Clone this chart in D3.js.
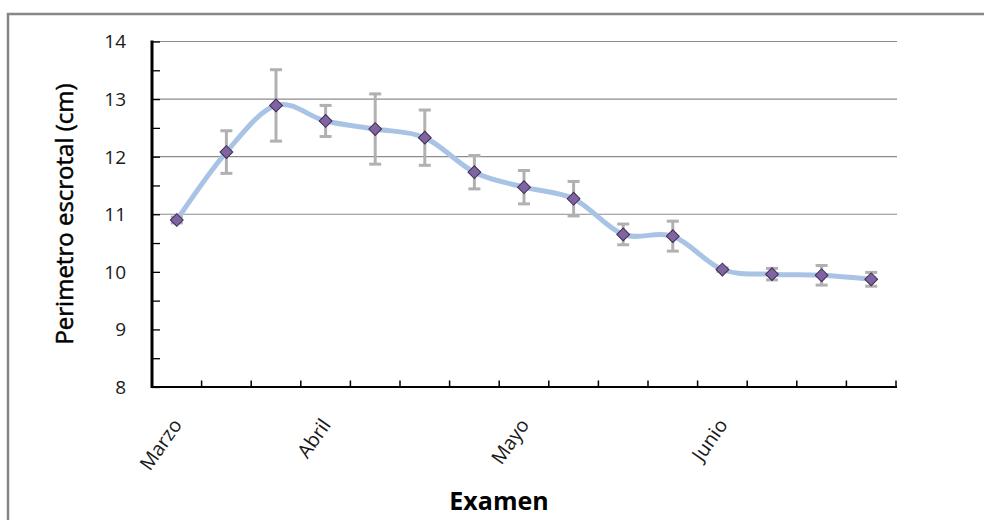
<!DOCTYPE html>
<html>
<head>
<meta charset="utf-8">
<script src="https://cdn.jsdelivr.net/npm/d3@7/dist/d3.min.js"></script>
<style>
  html, body { margin: 0; padding: 0; background: #fff; }
  svg { display: block; }
  text { font-family: "Open Sans", "Noto Sans", sans-serif; }
</style>
</head>
<body>
<svg id="chart" width="984" height="520"></svg>
<script>
// Scrotal perimeter by examination (mean ± error)
const exams = d3.range(1, 16);
const monthLabels = ["Marzo", "", "", "Abril", "", "", "", "Mayo", "", "", "", "Junio", "", "", ""];
const meanValues = [10.90, 12.08, 12.89, 12.62, 12.48, 12.33, 11.73, 11.47, 11.27, 10.65, 10.62, 10.04, 9.96, 9.94, 9.87];
const errorValues = [0.05, 0.37, 0.62, 0.27, 0.61, 0.48, 0.29, 0.29, 0.30, 0.18, 0.26, 0.03, 0.10, 0.17, 0.12];
const yTicks = [8, 9, 10, 11, 12, 13, 14];
const gridValues = [11, 12, 13, 14];

const svg = d3.select("#chart");

// outer chart frame
svg.append("rect")
  .attr("x", 8).attr("y", 14)
  .attr("width", 1000).attr("height", 540)
  .attr("fill", "none").attr("stroke", "#878787").attr("stroke-width", 2.5);

const plotLeft = 152, plotRight = 896, plotTop = 41.5, plotBottom = 387;

const x = d3.scaleBand().domain(exams).range([plotLeft, plotRight]).padding(0);
const y = d3.scaleLinear().domain([8, 14]).range([plotBottom, plotTop]);
const cx = d => x(d) + x.bandwidth() / 2;

// horizontal gridlines
svg.append("g").selectAll("line").data(gridValues).join("line")
  .attr("x1", plotLeft).attr("x2", plotRight + 1)
  .attr("y1", d => y(d)).attr("y2", d => y(d))
  .attr("stroke", "#8c8c8c").attr("stroke-width", 1.2);

// y axis with inward ticks every half unit
const yAxis = d3.axisRight(y)
  .tickValues(d3.range(8, 14.01, 0.5))
  .tickSize(8).tickFormat("");
const yg = svg.append("g").attr("transform", `translate(${plotLeft},0)`).call(yAxis);
yg.select(".domain").remove();
yg.selectAll(".tick line").attr("stroke", "#000").attr("stroke-width", 1.3);

svg.append("g").selectAll("text").data(yTicks).join("text")
  .attr("x", 126).attr("y", d => y(d))
  .attr("dy", "0.36em")
  .attr("text-anchor", "end")
  .attr("font-size", 19).attr("fill", "#1a1a1a")
  .text(d => d);

// x axis: ticks at category boundaries, pointing inward
const boundaries = d3.range(0, exams.length + 1).map(i => plotLeft + i * x.bandwidth());
svg.append("g").selectAll("line").data(boundaries).join("line")
  .attr("x1", d => d).attr("x2", d => d)
  .attr("y1", plotBottom).attr("y2", plotBottom - 6.5)
  .attr("stroke", "#000").attr("stroke-width", 1.5);
svg.append("line")
  .attr("x1", plotLeft).attr("x2", plotRight + 1)
  .attr("y1", plotBottom).attr("y2", plotBottom)
  .attr("stroke", "#000").attr("stroke-width", 2);
svg.append("line")
  .attr("x1", plotLeft).attr("x2", plotLeft)
  .attr("y1", plotTop - 1).attr("y2", plotBottom + 1)
  .attr("stroke", "#000").attr("stroke-width", 3);

// month labels
svg.append("g").selectAll("text").data(exams.filter((d, i) => monthLabels[i]))
  .join("text")
  .attr("transform", d => `translate(${cx(d) + 6},${plotBottom + 38}) rotate(-55)`)
  .attr("text-anchor", "end")
  .attr("font-size", 19.5).attr("fill", "#1a1a1a")
  .text(d => monthLabels[d - 1]);

// axis titles
svg.append("text")
  .attr("transform", `translate(73,214) rotate(-90)`)
  .attr("text-anchor", "middle")
  .attr("font-size", 24).attr("fill", "#000")
  .attr("stroke", "#000").attr("stroke-width", 0.5)
  .text("Perimetro escrotal (cm)");
svg.append("text")
  .attr("x", 499).attr("y", 510)
  .attr("text-anchor", "middle")
  .attr("font-size", 25).attr("font-weight", 700).attr("fill", "#000")
  .text("Examen");

// smoothed series line
const line = d3.line()
  .x((d, i) => cx(exams[i]))
  .y(d => y(d))
  .curve(d3.curveCatmullRom.alpha(0));
svg.append("path")
  .datum(meanValues)
  .attr("d", line)
  .attr("fill", "none")
  .attr("stroke", "#a9c3e5").attr("stroke-width", 5)
  .attr("stroke-linecap", "round");

// error bars
const eb = svg.append("g").attr("stroke", "#b1b1b1").attr("stroke-width", 3);
exams.forEach((d, i) => {
  const xc = cx(d), hi = y(meanValues[i] + errorValues[i]), lo = y(meanValues[i] - errorValues[i]);
  eb.append("line").attr("x1", xc).attr("x2", xc).attr("y1", hi).attr("y2", lo);
  eb.append("line").attr("x1", xc - 6).attr("x2", xc + 6).attr("y1", hi).attr("y2", hi);
  eb.append("line").attr("x1", xc - 6).attr("x2", xc + 6).attr("y1", lo).attr("y2", lo);
});

// diamond markers
const diamond = d3.symbol().type(d3.symbolSquare).size(82);
svg.append("g").selectAll("path").data(meanValues).join("path")
  .attr("d", diamond)
  .attr("transform", (d, i) => `translate(${cx(exams[i])},${y(d)}) rotate(45)`)
  .attr("fill", "#8064a2")
  .attr("stroke", "#3b2d52").attr("stroke-width", 1);
</script>
</body>
</html>
